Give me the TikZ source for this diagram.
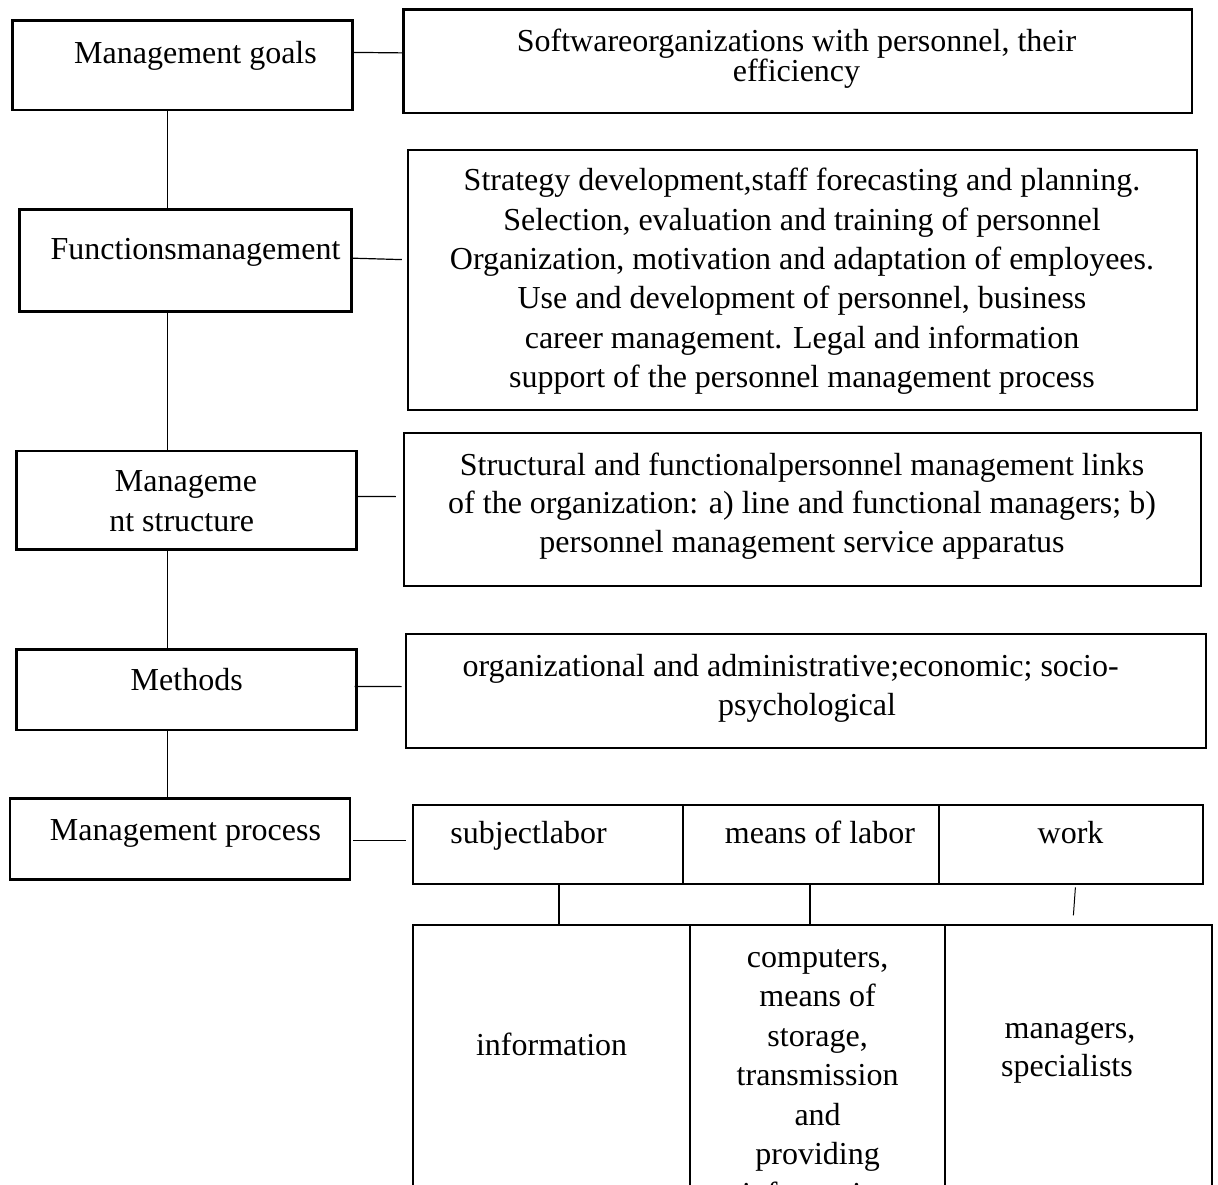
\documentclass[tikz,border=0pt]{standalone}
\usepackage{fontspec}
\setmainfont{Liberation Serif}
\begin{document}
\begin{tikzpicture}[x=1pt,y=-1pt,
  lbox/.style={draw, line width=2.6pt, rectangle, inner sep=0pt},
  rbox/.style={draw, line width=2.2pt, rectangle, inner sep=0pt},
  cell/.style={draw, line width=2.6pt, rectangle, inner sep=0pt},
  link/.style={line width=1.2pt},
  txt/.style={inner sep=0pt, anchor=base, font=\fontsize{32}{39}\selectfont}]
\path[use as bounding box, clip] (0,0) rectangle (1218,1185);
\fill[white] (0,0) rectangle (1218,1185);

% left column: management elements
\node[lbox, minimum width=339.6pt, minimum height=89.3pt] (g) at (182.5,65.35) {};
\node[lbox, minimum width=332.4pt, minimum height=102.4pt] (f) at (185.5,260.5) {};
\node[lbox, minimum width=340pt, minimum height=98.3pt] (s) at (186.7,500.15) {};
\node[lbox, minimum width=340pt, minimum height=80.7pt] (m) at (186.7,689.65) {};
\node[lbox, minimum width=340pt, minimum height=81pt] (p) at (180,838.8) {};

\node[txt] (gt) at (195.5,63.3) {Management goals};
\node[txt] (ft) at (195.5,259.5) {Functionsmanagement};
\node[txt] (st1) at (186,491.7) {Manageme};
\node[txt] (st2) at (181.7,531) {nt structure};
\node[txt] (mt) at (186.7,690.7) {Methods};
\node[txt] (pt) at (185.5,840) {Management process};

% right column: descriptions
\node[rbox, minimum width=788.5pt, minimum height=103.5pt] (A) at (797.75,61.25) {};
\node[rbox, minimum width=789.3pt, minimum height=260pt] (B) at (802.35,280) {};
\node[rbox, minimum width=797.3pt, minimum height=153pt] (C) at (802.35,509.5) {};
\node[rbox, minimum width=800pt, minimum height=114pt] (D) at (806,691) {};

\node[txt] (a1) at (796.5,51.7) {Softwareorganizations with personnel, their};
\node[txt] (a2) at (796.5,81.7) {efficiency};

\foreach \t [count=\i] in {{Strategy development,staff forecasting and planning.},
  {Selection, evaluation and training of personnel},
  {Organization, motivation and adaptation of employees.},
  {Use and development of personnel, business},
  {career management. Legal and information},
  {support of the personnel management process}}
  \node[txt] (b\i) at (802,{191+(\i-1)*39.3}) {\t};

\foreach \t [count=\i] in {{Structural and functionalpersonnel management links},
  {of the organization: a) line and functional managers; b)},
  {personnel management service apparatus}}
  \node[txt] (c\i) at (802,{475+(\i-1)*38.8}) {\t};

\node[txt] (d1) at (790.6,676.7) {organizational and administrative;economic; socio-};
\node[txt] (d2) at (807,715) {psychological};

% process table: upper row
\node[cell, minimum width=270pt, minimum height=79pt] (t1) at (548,844.5) {};
\node[cell, minimum width=256pt, minimum height=79pt] (t2) at (811,844.5) {};
\node[cell, minimum width=264pt, minimum height=79pt] (t3) at (1071,844.5) {};
\node[txt] (t1t) at (528.6,843.3) {subjectlabor};
\node[txt] (t2t) at (820,843.3) {means of labor};
\node[txt] (t3t) at (1070.6,843.3) {work};

% process table: lower row (runs past the bottom edge)
\node[cell, minimum width=277pt, minimum height=375pt] (u1) at (551.5,1112.5) {};
\node[cell, minimum width=255pt, minimum height=375pt] (u2) at (817.5,1112.5) {};
\node[cell, minimum width=267pt, minimum height=375pt] (u3) at (1078.5,1112.5) {};
\node[txt] (u1t) at (551.6,1055) {information};
\foreach \t [count=\i] in {{computers,}, {means of}, {storage,}, {transmission}, {and}, {providing}, {information}}
  \node[txt] (v\i) at (817.6,{967+(\i-1)*39.5}) {\t};
\node[txt] (w1) at (1070,1038) {managers,};
\node[txt] (w2) at (1067,1076.5) {specialists};

% vertical spine
\coordinate (spine) at (167.7,0);
\draw[link] (spine |- g.south) -- (spine |- f.north);
\draw[link] (spine |- f.south) -- (spine |- s.north);
\draw[link] (spine |- s.south) -- (spine |- m.north);
\draw[link] (spine |- m.south) -- (spine |- p.north);

% horizontal links to the descriptions
\draw[link] ([yshift=-33pt]g.north east) -- ([yshift=-44.5pt]A.north west);
\draw[link] ([yshift=-50.2pt]f.north east) -- ([xshift=-4.7pt,yshift=-110.7pt]B.north west);
\draw[link] ([yshift=-46.7pt]s.north east) -- ([xshift=-6.7pt,yshift=-64.7pt]C.north west);
\draw[link] ([xshift=-3.4pt,yshift=-38.4pt]m.north east) -- ([xshift=-3.3pt,yshift=-53.7pt]D.north west);
\draw[link] ([xshift=2pt,yshift=-43.4pt]p.north east) -- ([xshift=-5.3pt,yshift=-36.7pt]t1.north west);

% stubs between table rows
\draw[line width=2pt] ([xshift=147pt]t1.south west) -- ([xshift=147pt]u1.north west);
\draw[line width=2pt] ([xshift=128pt]t2.south west) -- ([xshift=121pt]u2.north west);
\draw[line width=1pt] ([xshift=137.7pt,yshift=-2pt]t3.south west) -- ([xshift=129.7pt,yshift=8.3pt]u3.north west);
\end{tikzpicture}
\end{document}
